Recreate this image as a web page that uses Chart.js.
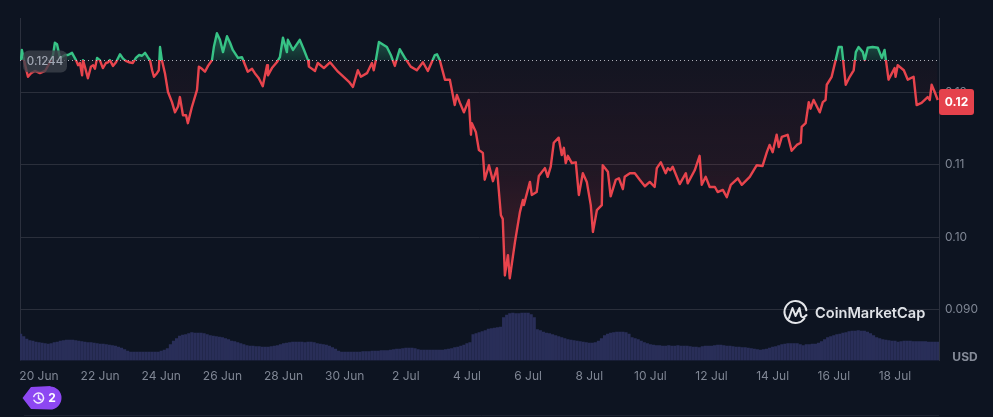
<!DOCTYPE html>
<html>
<head>
<meta charset="utf-8">
<style>html,body{margin:0;padding:0;background:#0d1421;overflow:hidden}canvas{display:block}</style>
<script src="https://cdn.jsdelivr.net/npm/chart.js@4"></script>
</head>
<body>
<canvas id="c" width="993" height="417"></canvas>
<script>
const baselinePrice = 0.1244;
const lastPriceLabel = '0.12';
const baselineLabel = '0.1244';
const xTickDays = [0,2,4,6,8,10,12,14,16,18,20,22,24,26,28];
const xTickLabels = ['20 Jun','22 Jun','24 Jun','26 Jun','28 Jun','30 Jun','2 Jul','4 Jul','6 Jul','8 Jul','10 Jul','12 Jul','14 Jul','16 Jul','18 Jul'];
const yTickValues = [0.09,0.10,0.11,0.12];
const yTickLabels = ['0.090','0.10','0.11','0.12'];
const priceDays = [
-0.59,-0.56,-0.49,-0.36,-0.26,-0.13,0.03,0.2,0.36,0.46,0.52,0.59,0.69,0.85,0.95,1.08,1.21,1.28,1.34,1.41,1.44,1.5,1.6,1.7,1.77,1.83,1.9,1.99,2.09,2.19,2.26,2.32,2.42,2.52,2.65,2.75,2.84,2.94,3.07,3.17,3.27,3.37,3.47,3.56,3.63,3.7,3.76,3.86,3.92,3.96,4.02,4.12,4.22,4.35,4.45,4.55,4.61,4.71,4.81,4.87,5.0,5.17,5.23,5.33,5.43,5.53,5.66,5.72,5.82,5.92,6.02,6.15,6.25,6.34,6.51,6.64,6.83,6.97,7.06,7.19,7.32,7.46,7.49,7.62,7.78,7.88,7.98,8.11,8.14,8.31,8.53,8.67,8.8,8.83,9.03,9.12,9.32,9.52,9.78,10.01,10.14,10.27,10.43,10.53,10.73,10.89,10.95,11.02,11.12,11.38,11.51,11.64,11.8,11.97,12.16,12.36,12.56,12.72,12.95,13.02,13.11,13.28,13.44,13.6,13.67,13.77,13.9,14.06,14.13,14.16,14.29,14.39,14.52,14.58,14.72,14.85,14.98,15.11,15.17,15.24,15.34,15.4,15.57,15.73,15.83,15.86,16.06,16.12,16.28,16.35,16.55,16.64,16.74,16.84,17.0,17.1,17.17,17.23,17.3,17.43,17.56,17.66,17.79,17.92,18.05,18.12,18.25,18.41,18.44,18.61,18.7,18.87,18.97,19.1,19.16,19.33,19.49,19.65,19.82,19.98,20.14,20.21,20.34,20.5,20.57,20.65,20.73,20.96,21.16,21.22,21.45,21.61,21.68,21.81,21.94,22.11,22.2,22.37,22.5,22.63,22.86,22.99,23.25,23.48,23.67,23.81,23.9,24.0,24.13,24.2,24.3,24.49,24.62,24.79,24.92,24.95,25.08,25.18,25.24,25.34,25.54,25.64,25.73,25.77,25.93,26.06,26.16,26.26,26.39,26.52,26.65,26.72,26.81,26.95,27.01,27.11,27.27,27.44,27.57,27.66,27.79,27.99,28.02,28.09,28.29,28.42,28.61,28.71,28.87,29.07,29.14,29.2,29.3,29.4
];
const prices = [
.1244,.1258,.1244,.1221,.1226,.1229,.1226,.1229,.1241,.1251,.1268,.1266,.1247,.1251,.1251,.1254,.1244,.1237,.1240,.1223,.1244,.1235,.1219,.1235,.1237,.1232,.1247,.1244,.1233,.1240,.1241,.1244,.1236,.1241,.1252,.1246,.1243,.1241,.1240,.1247,.1251,.1250,.1254,.1248,.1244,.1230,.1221,.1226,.1230,.1262,.1244,.1226,.1200,.1186,.1172,.1180,.1193,.1168,.1168,.1157,.1179,.1203,.1235,.1232,.1228,.1236,.1244,.1262,.1281,.1272,.1255,.1277,.1268,.1258,.1247,.1248,.1228,.1232,.1226,.1219,.1208,.1237,.1223,.1233,.1241,.1248,.1275,.1255,.1272,.1258,.1272,.1258,.1244,.1235,.1229,.1240,.1233,.1241,.1228,.1219,.1214,.1207,.1230,.1221,.1226,.1240,.1230,.1244,.1269,.1262,.1251,.1236,.1259,.1247,.1235,.1230,.1241,.1229,.1251,.1252,.1244,.1217,.1217,.1182,.1196,.1185,.1172,.1189,.1141,.1157,.1145,.1120,.1116,.1079,.1099,.1077,.1095,.1030,.1025,.0947,.0975,.0943,.0993,.1034,.1051,.1044,.1076,.1058,.1062,.1084,.1095,.1083,.1097,.1130,.1137,.1113,.1123,.1102,.1112,.1102,.1103,.1058,.1088,.1076,.1044,.1007,.1037,.1044,.1099,.1090,.1056,.1079,.1081,.1066,.1083,.1088,.1088,.1079,.1070,.1076,.1069,.1095,.1103,.1088,.1095,.1092,.1097,.1073,.1088,.1074,.1092,.1112,.1072,.1083,.1069,.1069,.1062,.1065,.1055,.1072,.1081,.1072,.1083,.1099,.1098,.1117,.1127,.1117,.1141,.1124,.1138,.1141,.1119,.1127,.1130,.1152,.1157,.1186,.1177,.1189,.1172,.1186,.1189,.1210,.1221,.1244,.1262,.1262,.1210,.1221,.1230,.1255,.1262,.1255,.1244,.1261,.1262,.1261,.1247,.1258,.1217,.1233,.1221,.1237,.1230,.1217,.1221,.1182,.1185,.1193,.1189,.1210,.1200,.1189
];
const volumes = [
26.5,24,21.5,20,19.5,18.5,18,17.5,17,16.5,
17,18,18.5,19.5,20,20.5,20.5,20.5,20,19.5,
19,18.5,18,18,17.5,17,16.5,16.5,16,15.5,
15,14.5,13.5,12.5,11,9.5,8.5,8.5,8.5,8.5,
8.5,8.5,8.5,8.5,8.5,8.5,9.5,10.5,12,16,
19.5,22,24.5,25.5,26,27,28,27.5,27.5,27.5,
27,26,25,24.5,24,23.5,23,22,21,19.5,
19,18,17,16,15,14.5,14.5,14,14,13.5,
13.5,13.5,14,14.5,15,16,17,17.5,18,18.5,
18.5,18.5,18.5,18,18.5,18.5,18,17,16.5,16,
15.5,14.5,13,11.5,9.5,8.5,8.5,8.5,8.5,8.5,
8.5,8.5,9,9,9,9.5,9.5,9.5,10,10,
10,10.5,11,11.5,11.5,12,12.5,12.5,12.5,12,
11,10.5,10.5,10.5,10.5,10.5,10.5,10.5,10.5,11,
11.5,12,13,13.5,14.5,15.5,17,18,26,27,
28,29,30,31.5,32,32.5,33,33.5,43,45.5,
47,47.5,47,47,47.5,47.5,47.5,46,43,31,
30,28.5,27.5,27,26,25,24,23,22,21,
20.5,20,19.5,19,18.5,18,17.5,17.5,18,19.5,
22,25,26.5,27.5,28,28.5,28.5,28.5,28,26.5,
23,22,21,19.5,18,17,16,15.5,15,15,
14.5,14.5,15,14.5,14.5,15,14.5,14.5,14.5,14,
13.5,13.5,13,14,14.5,14.5,14.5,15,15.5,15.5,
15,14.5,14.5,14,13.5,13.5,13,13,12.5,12,
11.5,11,10.5,11,11.5,12.5,13.5,14,15,16,
16.5,17,17,17,17,16,15,16,16,16.5,
16.5,17.5,19,21,23,24,25,26,26.5,27.5,
28,29,29.5,29.5,30,29.5,29.5,28.5,27,25,
23,22,21,20.5,20,19.5,19.5,18.5,19,19.5,
19.5,19.5,19,19,19,19,19,18.5,18.5,18.5,
18.5
];
const volumeFirstDay = -0.6;
const volumeStepDays = 0.1;

const RED='#e8444d', GREEN='#37c386', FONT='Inter, sans-serif';
function makeLineGradient(chart){
  const {ctx,scales:{y}}=chart;
  const t=y.getPixelForValue(y.max), b=y.getPixelForValue(y.min), f=(y.getPixelForValue(baselinePrice)-t)/(b-t);
  const g=ctx.createLinearGradient(0,t,0,b);
  g.addColorStop(0,GREEN);g.addColorStop(f,GREEN);g.addColorStop(f,RED);g.addColorStop(1,RED);
  return g;
}
const gradients={
  id:'gradients',
  afterLayout(chart){
    const {ctx,scales:{y}}=chart, ds=chart.data.datasets[0];
    const base=y.getPixelForValue(baselinePrice);
    const up=ctx.createLinearGradient(0,y.getPixelForValue(0.1281),0,base);
    up.addColorStop(0,'rgba(55,195,134,0.42)');up.addColorStop(1,'rgba(55,195,134,0.14)');
    const dn=ctx.createLinearGradient(0,base,0,y.getPixelForValue(0.0943));
    dn.addColorStop(0,'rgba(234,57,67,0.03)');dn.addColorStop(.5,'rgba(234,57,67,0.09)');dn.addColorStop(1,'rgba(234,57,67,0.24)');
    ds.fill.above=up;ds.fill.below=dn;
    ds.borderColor=makeLineGradient(chart);
  }
};
const overlay={
  id:'overlay',
  beforeDatasetsDraw(chart){
    const {ctx,chartArea:a}=chart;
    ctx.save();ctx.strokeStyle='#2b303d';ctx.lineWidth=1;
    ctx.beginPath();ctx.moveTo(a.left+.5,a.top);ctx.lineTo(a.left+.5,a.bottom);ctx.stroke();
    ctx.strokeStyle='#1c2230';
    ctx.beginPath();ctx.moveTo(24,415.5);ctx.lineTo(939,415.5);ctx.stroke();
    ctx.restore();
  },
  afterDatasetsDraw(chart){
    const {ctx,chartArea:a,scales:{y}}=chart;
    ctx.save();
    const by=Math.round(y.getPixelForValue(baselinePrice))+.5;
    ctx.strokeStyle='rgba(225,228,235,0.75)';ctx.setLineDash([1,3]);ctx.lineWidth=1;
    ctx.beginPath();ctx.moveTo(a.left,by);ctx.lineTo(a.right,by);ctx.stroke();ctx.setLineDash([]);
    // baseline tag
    ctx.fillStyle='rgba(62,66,76,0.78)';
    ctx.beginPath();ctx.roundRect(23,by-10,44,22,6);ctx.fill();
    ctx.fillStyle='#a1a7b3';ctx.font='500 11.5px '+FONT;ctx.textAlign='center';ctx.textBaseline='middle';
    ctx.fillText(baselineLabel,45,by+1);
    // last price tag
    ctx.fillStyle='#e5424c';
    ctx.beginPath();ctx.roundRect(939,89,35,26,3);ctx.fill();
    ctx.fillStyle='#fff';ctx.font='700 12px '+FONT;ctx.fillText(lastPriceLabel,956.5,102.5);
    // USD
    ctx.fillStyle='#858b98';ctx.font='700 12px '+FONT;ctx.fillText('USD',965,357);
    // watermark
    ctx.strokeStyle='#e4e6ea';ctx.lineWidth=2;ctx.lineCap='round';ctx.lineJoin='round';
    ctx.beginPath();ctx.arc(795.5,312,11,0.2*Math.PI,1.95*Math.PI);ctx.stroke();
    ctx.beginPath();ctx.moveTo(789,318);ctx.lineTo(792.5,308);ctx.lineTo(795.5,316);ctx.lineTo(799.5,308);ctx.lineTo(801,316);ctx.quadraticCurveTo(803,319,806.5,315);ctx.stroke();
    ctx.fillStyle='#dfe2e7';ctx.font='600 14.6px '+FONT;ctx.textAlign='left';ctx.fillText('CoinMarketCap',815,313.5);
    // badge
    ctx.fillStyle='#8d47f2';
    ctx.beginPath();ctx.moveTo(22.5,398);ctx.lineTo(31,387);ctx.lineTo(51,386);
    ctx.arc(50,398,11.5,-Math.PI/2,Math.PI/2);ctx.lineTo(31,409);ctx.closePath();ctx.fill();
    ctx.strokeStyle='#f1e9ff';ctx.lineWidth=1.5;
    ctx.beginPath();ctx.arc(38.5,398,5,-0.9*Math.PI,0.85*Math.PI);ctx.stroke();
    ctx.beginPath();ctx.moveTo(38.5,395);ctx.lineTo(38.5,398.5);ctx.lineTo(41,400);ctx.stroke();
    ctx.fillStyle='#fff';ctx.font='700 12px '+FONT;ctx.textAlign='center';ctx.fillText('2',52,398.5);
    ctx.restore();
  }
};
new Chart(document.getElementById('c'),{
  type:'line',
  data:{datasets:[
    {type:'line',xAxisID:'x',yAxisID:'y',data:priceDays.map((d,i)=>({x:d,y:prices[i]})),
     borderColor:RED,borderWidth:2.4,pointRadius:0,tension:0,borderJoinStyle:'round',
     fill:{target:{value:baselinePrice},above:'rgba(55,195,134,.3)',below:'rgba(234,57,67,.1)'},order:1},
    {type:'bar',xAxisID:'x',yAxisID:'yVol',data:volumes.map((v,i)=>({x:volumeFirstDay+i*volumeStepDays,y:v})),
     backgroundColor:'#292e58',borderWidth:0,barThickness:2.5,order:2}
  ]},
  options:{
    responsive:false,animation:false,
    layout:{padding:{left:20,top:18,right:0,bottom:0}},
    plugins:{legend:{display:false},tooltip:{enabled:false}},
    scales:{
      x:{type:'linear',offset:false,min:-0.621,max:29.441,
        grid:{display:false,drawTicks:false},border:{display:false},
        afterBuildTicks(s){s.ticks=xTickDays.map(v=>({value:v}));},
        afterFit(s){s.height=56.5;},
        ticks:{autoSkip:false,maxRotation:0,padding:9,color:'#7f8694',font:{family:FONT,size:12,weight:'400'},
          callback(v){return xTickLabels[xTickDays.indexOf(v)];}}},
      y:{position:'right',min:0.082966,max:0.130207,
        grid:{color:'#2a2f3b',drawTicks:false},border:{display:true,color:'#2b303d'},
        afterBuildTicks(s){s.ticks=yTickValues.map(v=>({value:v}));},
        afterFit(s){s.width=54;},
        ticks:{padding:6,color:'#7f8694',font:{family:FONT,size:12,weight:'400'},
          callback(v){return yTickLabels[yTickValues.findIndex(t=>Math.abs(t-v)<1e-6)];}}},
      yVol:{display:false,min:0,max:342.5}
    }
  },
  plugins:[gradients,overlay]
});
</script>
</body>
</html>
